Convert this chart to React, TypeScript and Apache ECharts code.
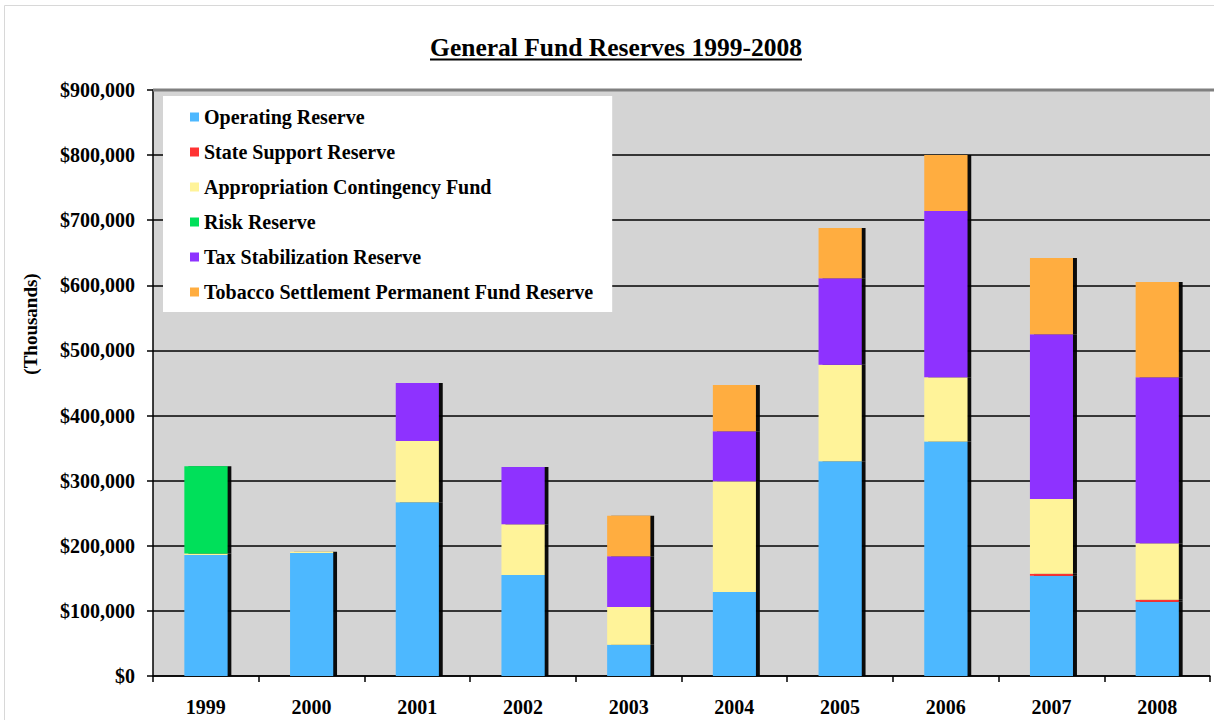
import React, { useEffect, useRef } from "react";
import * as echarts from "echarts";

const years = ["1999", "2000", "2001", "2002", "2003", "2004", "2005", "2006", "2007", "2008"];
const operatingReserve = [186000, 189000, 267000, 155000, 48000, 129000, 330000, 360000, 154000, 114000];
const stateSupportReserve = [0, 0, 0, 0, 0, 0, 0, 0, 3000, 3000];
const appropriationContingency = [2000, 2000, 94000, 78000, 58000, 170000, 148000, 99000, 115000, 87000];
const riskReserve = [134000, 0, 0, 0, 0, 0, 0, 0, 0, 0];
const taxStabilization = [0, 0, 89000, 88000, 78000, 77000, 133000, 255000, 253000, 255000];
const tobaccoSettlement = [0, 0, 0, 0, 62000, 71000, 77000, 86000, 117000, 146000];

const seriesNames = [
  "Operating Reserve",
  "State Support Reserve",
  "Appropriation Contingency Fund",
  "Risk Reserve",
  "Tax Stabilization Reserve",
  "Tobacco Settlement Permanent Fund Reserve",
];
const seriesColors = ["#4DB8FF", "#FF3333", "#FFF399", "#00E05A", "#8E33FF", "#FFAD40"];
const seriesData = [
  operatingReserve,
  stateSupportReserve,
  appropriationContingency,
  riskReserve,
  taxStabilization,
  tobaccoSettlement,
];

const FONT = "'Liberation Serif', 'Times New Roman', serif";

export default function App() {
  const ref = useRef<HTMLDivElement>(null);
  useEffect(() => {
    document.body.style.margin = "0";
    const chart = echarts.init(ref.current!, undefined, { renderer: "svg" });
    const fmt = (v: number) => "$" + v.toLocaleString("en-US");
    chart.setOption({
      animation: false,
      backgroundColor: "#ffffff",
      textStyle: { fontFamily: FONT },
      graphic: [
        {
          type: "rect",
          shape: { x: 4.5, y: 5.5, width: 1220, height: 720 },
          style: { fill: "none", stroke: "#d8d8d8", lineWidth: 1 },
          silent: true,
        },
        {
          type: "text",
          x: 616,
          y: 47,
          style: {
            text: "General Fund Reserves 1999-2008",
            fontFamily: FONT,
            fontWeight: "bold",
            fontSize: 25.5,
            fill: "#000",
            align: "center",
            verticalAlign: "middle",
          },
        },
        {
          type: "line",
          shape: { x1: 430, y1: 59.5, x2: 802, y2: 59.5 },
          style: { stroke: "#000", lineWidth: 2 },
        },
        {
          type: "text",
          x: 30,
          y: 324,
          rotation: Math.PI / 2,
          style: {
            text: "(Thousands)",
            fontFamily: FONT,
            fontWeight: "bold",
            fontSize: 19,
            fill: "#000",
            align: "center",
            verticalAlign: "middle",
          },
        },
        {
          type: "line",
          shape: { x1: 153, y1: 90, x2: 1214, y2: 90 },
          style: { stroke: "#808080", lineWidth: 3 },
          z: 10,
        },
      ],
      grid: { left: 153, right: 4, top: 90, bottom: 44 },
      legend: {
        orient: "vertical",
        left: 163,
        top: 96,
        padding: [11, 19, 10, 27],
        backgroundColor: "#ffffff",
        itemWidth: 9,
        itemHeight: 9,
        itemGap: 15,
        icon: "rect",
        textStyle: { fontFamily: FONT, fontWeight: "bold", fontSize: 20, color: "#000", padding: [0, 0, 0, 0] },
        data: seriesNames,
      },
      xAxis: {
        type: "category",
        data: years,
        axisLine: { lineStyle: { color: "#000", width: 1.5 } },
        axisTick: { show: true, alignWithLabel: false, length: 6, lineStyle: { color: "#000", width: 1.5 } },
        axisLabel: { fontFamily: FONT, fontWeight: "bold", fontSize: 20, color: "#000", margin: 21 },
      },
      yAxis: {
        type: "value",
        min: 0,
        max: 900000,
        interval: 100000,
        axisLine: { show: true, lineStyle: { color: "#000", width: 1.5 } },
        axisTick: { show: true, length: 6, lineStyle: { color: "#000", width: 1.5 } },
        axisLabel: {
          fontFamily: FONT,
          fontWeight: "bold",
          fontSize: 20,
          color: "#000",
          margin: 18,
          formatter: fmt,
        },
        splitLine: { show: true, lineStyle: { color: "#000", width: 1.5 } },
        splitArea: { show: true, areaStyle: { color: ["#D4D4D4", "#D4D4D4"] } },
      },
      series: seriesNames.map((name, i) => ({
        name,
        type: "bar",
        stack: "total",
        barWidth: 43,
        data: seriesData[i],
        itemStyle: {
          color: seriesColors[i],
          shadowColor: "rgba(0,0,0,0.95)",
          shadowOffsetX: 4,
          shadowOffsetY: 0,
          shadowBlur: 1,
        },
      })),
    });
    return () => chart.dispose();
  }, []);
  return <div ref={ref} style={{ width: 1214, height: 720 }} />;
}
